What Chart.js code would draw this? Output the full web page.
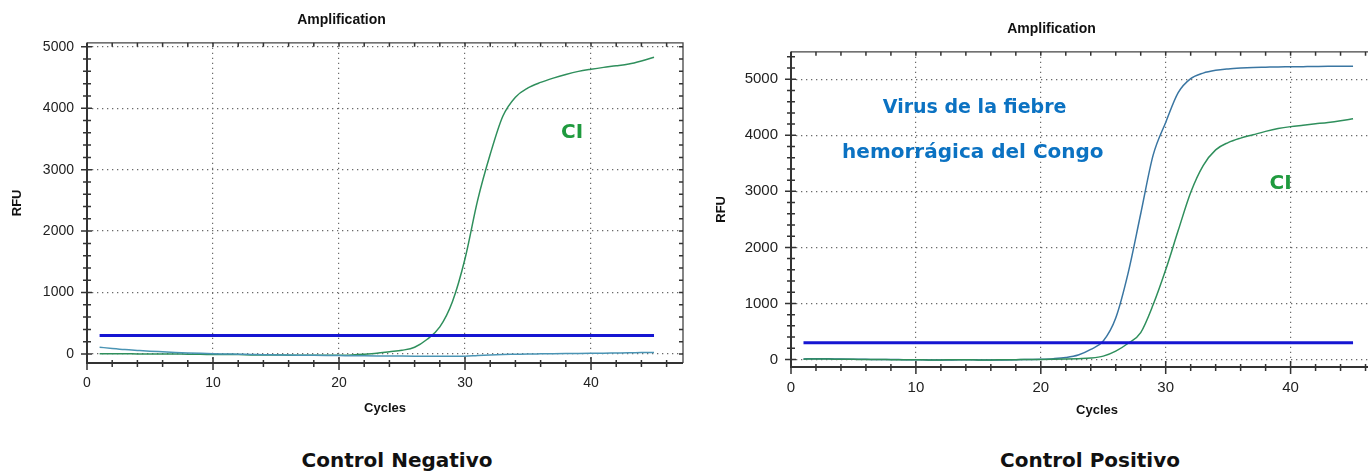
<!DOCTYPE html>
<html>
<head>
<meta charset="utf-8">
<script src="https://cdn.jsdelivr.net/npm/chart.js@4.4.1/dist/chart.umd.min.js"></script>
<style>
  html, body { margin: 0; padding: 0; background: #fff; overflow: hidden; width: 1368px; height: 473px; }
  .box { position: absolute; top: 0; }
  #negBox { left: 0; width: 700px; height: 420px; }
  #posBox { left: 700px; width: 720px; height: 422px; }
  .caption { position: absolute; top: 448px; font: bold 20px "DejaVu Sans", sans-serif; color: #111;
             transform: translateX(-50%); white-space: nowrap; }
</style>
</head>
<body>
<div class="box" id="negBox"><canvas id="negChart"></canvas></div>
<div class="box" id="posBox"><canvas id="posChart"></canvas></div>
<div class="caption" style="left:397px">Control Negativo</div>
<div class="caption" style="left:1090px">Control Positivo</div>

<script>
// cycle numbers shared by every curve
const cycles = [1, 2, 3, 4, 5, 6, 7, 8, 9, 10, 11, 12, 13, 14, 15, 16, 17, 18, 19, 20,
  21, 22, 23, 24, 25, 26, 27, 28, 29, 30, 31, 32, 33, 34, 35, 36, 37, 38, 39, 40,
  41, 42, 43, 44, 45];

// Control Negativo
const negCI = [5, 5, 5, 0, 0, 0, 0, -5, -5, -10, -10, -10, -15, -15, -15, -20, -20, -20, -20, -20,
  -15, -5, 10, 35, 60, 110, 240, 440, 850, 1550, 2500, 3250, 3870, 4180, 4330, 4420, 4490, 4550, 4600, 4635,
  4665, 4690, 4720, 4770, 4830];
const negSample = [110, 90, 72, 58, 45, 35, 25, 17, 10, 4, 0, -4, -8, -12, -15, -18, -20, -22, -24, -26,
  -28, -30, -32, -34, -35, -36, -37, -38, -38, -38, -25, -15, -8, -4, 0, 2, 4, 6, 8, 10,
  12, 15, 18, 22, 25];

// Control Positivo
const posVirus = [10, 15, 12, 8, 5, 3, 0, 0, -3, -5, -8, -10, -8, -5, -8, -10, -8, -5, 0, 5,
  15, 35, 80, 180, 330, 740, 1550, 2600, 3650, 4230, 4760, 5010, 5110, 5160, 5185, 5200, 5210, 5215, 5220, 5222,
  5225, 5228, 5230, 5230, 5232];
const posCI = [5, 10, 8, 5, 3, 0, 0, -3, -5, -5, -8, -8, -5, -5, -8, -8, -5, -3, 0, 0,
  3, 8, 15, 25, 60, 150, 290, 480, 980, 1600, 2300, 2980, 3460, 3740, 3870, 3950, 4010, 4070, 4120, 4155,
  4180, 4205, 4230, 4260, 4295];

const threshold = 300;

// tick labels
const xTicks = [0, 10, 20, 30, 40];
const yTicks = [0, 1000, 2000, 3000, 4000, 5000];

const GREEN = '#2f8f5c';
const TEAL = '#4a94b4';
const BLUE = '#3a76a2';
const THRESH = '#1616d2';

// box frame plus the small minor tick marks of the instrument plot
const frameTicks = {
  id: 'frameTicks',
  afterDatasetsDraw(chart) {
    const { ctx, chartArea: a, scales: { x, y } } = chart;
    ctx.save();
    ctx.strokeStyle = '#444';
    ctx.lineWidth = 1.3;
    ctx.beginPath();
    ctx.moveTo(a.left, a.top); ctx.lineTo(a.right, a.top); ctx.lineTo(a.right, a.bottom);
    ctx.stroke();
    ctx.strokeStyle = '#333';
    ctx.lineWidth = 2;
    ctx.beginPath();
    ctx.moveTo(a.left, a.top); ctx.lineTo(a.left, a.bottom); ctx.lineTo(a.right, a.bottom);
    ctx.stroke();
    ctx.lineWidth = 1.5;
    ctx.beginPath();
    for (let c = 0; c <= x.max; c += 2) {
      const px = x.getPixelForValue(c);
      const major = c % 10 === 0;
      ctx.moveTo(px, a.bottom - (major ? 6 : 3));
      ctx.lineTo(px, a.bottom + (major ? 7 : 4));
      ctx.moveTo(px, a.top);
      ctx.lineTo(px, a.top + 4);
    }
    for (let v = Math.ceil(y.min / 200) * 200; v <= y.max; v += 200) {
      const py = y.getPixelForValue(v);
      const major = v % 1000 === 0;
      ctx.moveTo(a.left - (major ? 6 : 4), py);
      ctx.lineTo(a.left + (major ? 5 : 4), py);
      ctx.moveTo(a.right - 4, py);
      ctx.lineTo(a.right, py);
    }
    ctx.stroke();
    ctx.restore();
  }
};

// curve names written inside the plot, placed in data units
const notes = {
  id: 'notes',
  afterDatasetsDraw(chart, args, opts) {
    const { ctx, scales: { x, y } } = chart;
    ctx.save();
    ctx.textAlign = 'center';
    ctx.textBaseline = 'middle';
    (opts.items || []).forEach(n => {
      ctx.font = n.font;
      ctx.fillStyle = n.color;
      ctx.fillText(n.text, x.getPixelForValue(n.x), y.getPixelForValue(n.y));
    });
    ctx.restore();
  }
};

function curve(values, color, width) {
  return {
    data: cycles.map((c, i) => ({ x: c, y: values[i] })),
    borderColor: color,
    borderWidth: width,
    pointRadius: 0,
    cubicInterpolationMode: 'monotone',
    fill: false
  };
}

function makeChart(id, cfg) {
  return new Chart(document.getElementById(id), {
    type: 'line',
    data: {
      datasets: [
        curve(cycles.map(() => threshold), THRESH, 3),
        ...cfg.series
      ]
    },
    options: {
      responsive: true,
      maintainAspectRatio: false,
      animation: false,
      events: [],
      layout: { padding: { right: cfg.padRight } },
      plugins: {
        legend: { display: false },
        tooltip: { enabled: false },
        title: {
          display: true,
          text: 'Amplification',
          color: '#111',
          font: { family: 'Liberation Sans', size: 14, weight: 'bold' },
          padding: cfg.titlePad
        },
        notes: { items: cfg.notes }
      },
      scales: {
        x: {
          type: 'linear',
          min: 0,
          max: cfg.xMax,
          afterBuildTicks: s => { s.ticks = xTicks.map(v => ({ value: v })); },
          afterFit: s => { s.height = cfg.xHeight; },
          ticks: { color: '#222', padding: 12, callback: v => String(v),
                   font: { family: 'Liberation Sans', size: cfg.tickSize } },
          grid: { drawTicks: false, color: ctx => ctx.tick && ctx.tick.value === 0 ? 'transparent' : '#6a6a6a', lineWidth: 1.2 },
          border: { display: false, dash: [1.3, 3.7] },
          title: { display: true, text: 'Cycles', color: '#111',
                   font: { family: 'Liberation Sans', size: 13, weight: 'bold' }, padding: { top: 4, bottom: 4 } }
        },
        y: {
          min: cfg.yMin,
          max: cfg.yMax,
          afterBuildTicks: s => { s.ticks = yTicks.map(v => ({ value: v })); },
          afterFit: s => { s.width = cfg.yWidth; },
          ticks: { color: '#222', padding: 13, callback: v => String(v),
                   font: { family: 'Liberation Sans', size: cfg.tickSize } },
          grid: { drawTicks: false, color: '#6a6a6a', lineWidth: 1.2 },
          border: { display: false, dash: [1.3, 3.7] },
          title: { display: true, text: 'RFU', color: '#111',
                   font: { family: 'Liberation Sans', size: 13, weight: 'bold' }, padding: { top: cfg.yTitlePad, bottom: 0 } }
        }
      }
    },
    plugins: [frameTicks, notes]
  });
}

makeChart('negChart', {
  series: [curve(negSample, TEAL, 1.5), curve(negCI, GREEN, 1.5)],
  xMax: 47.3, yMin: -147, yMax: 5065,
  padRight: 17, yWidth: 87, xHeight: 57,
  titlePad: { top: 12, bottom: 14 }, yTitlePad: 10, tickSize: 14,
  notes: [
    { text: 'CI', x: 38.5, y: 3600, color: '#1f9a3e', font: 'bold 20px "DejaVu Sans", sans-serif' }
  ]
});

makeChart('posChart', {
  series: [curve(posCI, GREEN, 1.5), curve(posVirus, BLUE, 1.5)],
  xMax: 49, yMin: -134, yMax: 5490,
  padRight: 17, yWidth: 91, xHeight: 55,
  titlePad: { top: 21, bottom: 14 }, yTitlePad: 14, tickSize: 15,
  notes: [
    { text: 'CI', x: 39.2, y: 3134, color: '#1f9a3e', font: 'bold 20px "DejaVu Sans", sans-serif' },
    { text: 'Virus de la fiebre', x: 14.7, y: 4490, color: '#0b72c2', font: 'bold 19px "DejaVu Sans", sans-serif' },
    { text: 'hemorrágica del Congo', x: 14.56, y: 3690, color: '#0b72c2', font: 'bold 20px "DejaVu Sans", sans-serif' }
  ]
});
</script>
</body>
</html>
